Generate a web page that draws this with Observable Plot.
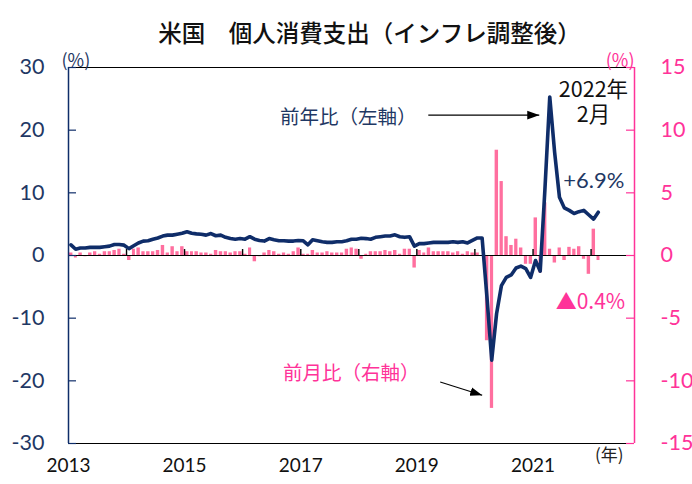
<!DOCTYPE html>
<html><head><meta charset="utf-8">
<script src="https://cdn.jsdelivr.net/npm/d3@7"></script>
<script src="https://cdn.jsdelivr.net/npm/@observablehq/plot@0.6"></script>
<style>body{margin:0;background:#fff;} svg{display:block}</style>
</head><body><div id="chart"></div>
<script>
// ---- data (monthly, Jan 2013 – Feb 2022) ----
const startYear = 2013;
// 前年比 (%), left axis
const yoy = [
  1.7, 1.0, 1.2, 1.2, 1.3, 1.3, 1.3, 1.4, 1.5, 1.75, 1.75, 1.65,
  1.1, 1.55, 2.0, 2.3, 2.35, 2.6, 2.8, 3.1, 3.25, 3.25, 3.4, 3.55,
  3.8, 3.55, 3.45, 3.4, 3.25, 3.5, 3.15, 3.25, 2.9, 2.7, 2.6, 2.7,
  2.6, 3.0, 2.6, 2.4, 2.3, 2.7, 2.5, 2.35, 2.35, 2.3, 2.3, 2.4,
  2.35, 1.7, 2.5, 2.35, 2.2, 2.1, 2.1, 2.2, 2.2, 2.35, 2.6, 2.6,
  2.75, 2.7, 2.6, 2.9, 3.0, 3.1, 3.1, 3.3, 3.0, 2.9, 3.0, 1.5,
  1.9, 1.9, 2.0, 2.1, 2.1, 2.1, 2.1, 2.2, 2.1, 2.2, 2.0, 2.4,
  2.8, 2.8, -6.5, -16.7, -9.3, -4.8, -3.5, -3.1, -2.0, -1.7, -2.1, -3.5,
  -0.8, -2.5, 10.5, 25.3, 16.5, 9.3, 7.6, 7.2, 6.7, 7.0, 7.2, 6.5,
  5.8, 6.9
];
// 前月比 (%), right axis
const mom = [
  0.2, -0.2, 0.2, -0.1, 0.2, 0.3, 0.1, 0.3, 0.3, 0.4, 0.5, 0.1,
  -0.4, 0.5, 0.6, 0.3, 0.3, 0.3, 0.4, 0.8, 0.2, 0.7, 0.3, 0.7,
  0.3, 0.3, 0.3, 0.2, 0.2, 0.1, 0.4, 0.3, 0.3, 0.2, 0.3, 0.3,
  0.1, 0.6, -0.5, -0.1, 0.2, 0.4, 0.3, 0.1, 0.2, 0.1, 0.3, 0.6,
  0.1, 0.1, 0.4, 0.2, 0.2, 0.3, 0.2, 0.2, 0.2, 0.5, 0.6, 0.5,
  -0.3, 0.1, 0.3, 0.3, 0.3, 0.4, 0.3, 0.4, 0.1, 0.5, 0.5, -1.0,
  0.4, 0.2, 0.6, 0.3, 0.3, 0.3, 0.3, 0.2, 0.3, 0.1, 0.3, 0.2,
  0.2, 0.0, -6.8, -12.2, 8.4, 5.9, 1.5, 0.8, 1.3, 0.6, -0.7, -0.7,
  3.0, -1.4, 4.2, 0.5, -0.6, 0.6, -0.4, 0.65, 0.5, 0.7, -0.3, -1.5,
  2.1, -0.4
];
const leftTicks = [-30, -20, -10, 0, 10, 20, 30];
const rightTicks = [-15, -10, -5, 0, 5, 10, 15];
const yearLabels = [2013, 2015, 2017, 2019, 2021];
const yearTicks = [2014, 2015, 2016, 2017, 2018, 2019, 2020, 2021, 2022];
const xDomain = [[2013, 0], [2022, 9]];
const RATIO = 2; // left units per right unit

const title = "米国　個人消費支出（インフレ調整後）";
const texts = [
  {t: "前年比（左軸）", d: [2017, 9, 27], v: 22.2, c: "navy", s: 19.5, f: "jp"},
  {t: "前月比（右軸）", d: [2017, 10, 14], v: -18.7, c: "pink", s: 19.5, f: "jp"},
  {t: "2022年\n2月", d: [2022, 0, 16], v: 24.6, c: "black", s: 21.5, f: "jp"},
  {t: "+6.9%", d: [2022, 0, 18], v: 12.1, c: "navy", s: 22, f: "num"},
  {t: "▲0.4%", d: [2021, 11, 28], v: -7.3, c: "pink", s: 21, f: "jp"}
];
const arrows = [
  {a: [2019, 2, 14], va: 22.4, b: [2021, 1, 9], vb: 22.4},
  {a: [2019, 4, 28], va: -20.2, b: [2020, 1, 16], vb: -22.3}
];

// ---- build ----
const NAVY = "#0f2d69", NAVYT = "#1f3864", PINK = "#ff3399", PINKBAR = "#ff6f9f";
const colorOf = {navy: NAVYT, pink: PINK, black: "#111"};
const JP = "'Noto Sans CJK JP', sans-serif", NUM = "Lato, 'Noto Sans', sans-serif";
const D = (a) => new Date(Date.UTC(a[0], a[1], a[2] ?? 1));
const rows = yoy.map((v, i) => {
  const s = new Date(Date.UTC(startYear, i, 1)), e = new Date(Date.UTC(startYear, i + 1, 1));
  return {start: s, end: e, mid: new Date((+s + +e) / 2), yoy: v, mom: mom[i]};
});
const x0 = D(xDomain[0]), x1 = D(xDomain[1]);
const W = 692, H = 484, mL = 68, mR = 58, mT = 67, mB = 41;
const innerW = W - mL - mR;

const chart = Plot.plot({
  width: W, height: H,
  marginLeft: mL, marginRight: mR, marginTop: mT, marginBottom: mB,
  style: {fontFamily: NUM, background: "white", overflow: "visible"},
  x: {type: "utc", domain: [x0, x1], axis: null},
  y: {domain: [-30, 30], axis: null},
  marks: [
    Plot.rect(rows, {x1: "start", x2: "end", y1: 0, y2: d => d.mom * RATIO, fill: PINKBAR, insetLeft: 1.0, insetRight: 0.5}),
    Plot.ruleY([0], {stroke: "#000", strokeWidth: 1}),
    Plot.ruleX(yearTicks, {x: d => new Date(Date.UTC(d, 0, 1)), y1: 0, y2: 0.95, stroke: "#000", strokeWidth: 1.4}),
    Plot.line(rows, {x: "mid", y: "yoy", stroke: NAVY, strokeWidth: 3.6, strokeLinejoin: "round"}),
    // frame
    Plot.ruleY([30, -30], {stroke: "#000", strokeWidth: 1.2}),
    Plot.ruleX([x0], {stroke: NAVY, strokeWidth: 1.5}),
    Plot.ruleX([x1], {stroke: PINK, strokeWidth: 1.5}),
    // inward ticks
    Plot.tickY(leftTicks, {y: d => d, stroke: NAVY, strokeWidth: 1.2, insetRight: innerW - 8}),
    Plot.tickY(rightTicks, {y: d => d * RATIO, stroke: PINK, strokeWidth: 1.2, insetLeft: innerW - 8}),
    // tick labels
    Plot.text(leftTicks, {y: d => d, text: d => String(d), frameAnchor: "left", dx: -24, textAnchor: "end", fill: NAVYT, fontSize: 21.5, fontFamily: NUM}),
    Plot.text(rightTicks, {y: d => d * RATIO, text: d => String(d), frameAnchor: "right", dx: 26, textAnchor: "start", fill: PINK, fontSize: 21.5, fontFamily: NUM}),
    Plot.text(yearLabels, {x: d => new Date(Date.UTC(d, 0, 1)), text: d => String(d), frameAnchor: "bottom", dy: 28, fill: "#111", fontSize: 19, fontFamily: NUM}),
    Plot.text(["(年)"], {frameAnchor: "bottom-right", dx: -11, dy: 17, textAnchor: "end", fill: "#222", fontSize: 17, fontFamily: JP}),
    Plot.text(["(%)"], {frameAnchor: "top-left", dx: -7, dy: -13, textAnchor: "start", fill: NAVYT, fontSize: 18, fontFamily: JP}),
    Plot.text(["(%)"], {frameAnchor: "top-right", dx: 0, dy: -13, textAnchor: "end", fill: PINK, fontSize: 18, fontFamily: JP}),
    Plot.text([title], {frameAnchor: "top", dx: 18, dy: -42, fill: "#111", fontSize: 23.5, fontWeight: 500, fontFamily: JP}),
    // annotations
    ...texts.map(a => Plot.text([a], {x: d => D(d.d), y: "v", text: "t", lineHeight: 1.2, fill: colorOf[a.c], fontSize: a.s, fontFamily: a.f === "jp" ? JP : NUM})),
    Plot.link(arrows, {x1: d => D(d.a), y1: "va", x2: d => D(d.b), y2: "vb", stroke: "#000", strokeWidth: 1.1, markerEnd: "arrow"})
  ]
});

// turn the plot's arrow markers into filled triangles
d3.select(chart).selectAll("marker")
  .attr("viewBox", "-10 -5 10 10")
  .attr("markerUnits", "userSpaceOnUse")
  .attr("markerWidth", 12).attr("markerHeight", 12)
  .each(function () {
    const m = d3.select(this);
    m.selectAll("*").remove();
    m.append("path").attr("d", "M-10,-3.6L0,0L-10,3.6Z").attr("fill", "#000").attr("stroke", "none");
  });

document.getElementById("chart").appendChild(chart);
</script>
</body></html>
